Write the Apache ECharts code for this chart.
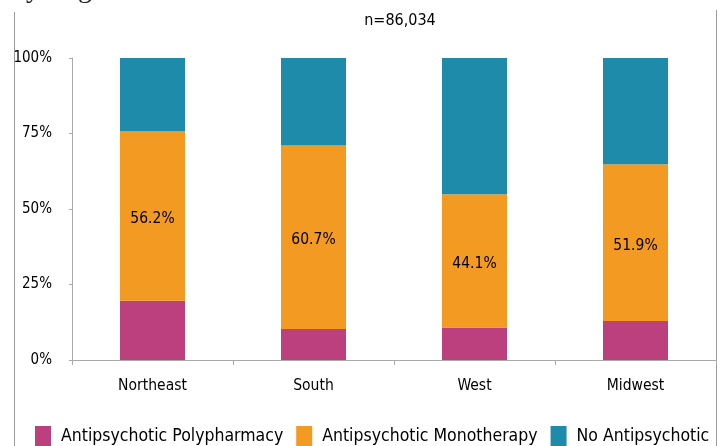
<!DOCTYPE html>
<html>
<head>
<meta charset="utf-8">
<script src="https://cdn.jsdelivr.net/npm/echarts@6/dist/echarts.min.js"></script>
<style>
html,body{margin:0;padding:0;background:#fff;}
#chart{width:722px;height:446px;}
</style>
</head>
<body>
<div id="chart"></div>
<script>
const categories = ['Northeast', 'South', 'West', 'Midwest'];
const polypharmacy = [19.6, 10.3, 10.8, 12.9];
const monotherapy = [56.2, 60.7, 44.1, 51.9];
const noAntipsychotic = [24.2, 29.0, 45.1, 35.2];
const seriesNames = ['Antipsychotic Polypharmacy', 'Antipsychotic Monotherapy', 'No Antipsychotic'];
const yTicks = [0, 25, 50, 75, 100];
const subtitle = 'n=86,034';

const font = '"DejaVu Sans Condensed", "Liberation Sans Narrow", sans-serif';
const chart = echarts.init(document.getElementById('chart'), null, {renderer: 'canvas'});
const colors = ['#BC407D', '#F39A22', '#1F8BAB'];

chart.setOption({
  animation: false,
  color: colors,
  title: {
    text: subtitle,
    left: 395, top: 8, textAlign: 'center',
    textStyle: {fontFamily: font, fontSize: 16, fontWeight: 'normal', color: '#000'}
  },
  legend: {
    bottom: -5, left: 30,
    itemWidth: 16, itemHeight: 20, itemGap: 13,
    icon: 'rect',
    textStyle: {fontFamily: font, fontSize: 17.5, color: '#000', padding: [0,0,0,5]},
    data: seriesNames
  },
  grid: {left: 72, right: 6, top: 58, bottom: 86, containLabel: false},
  xAxis: {
    type: 'category', data: categories,
    axisLine: {lineStyle: {color: '#aaa', width: 1}},
    axisTick: {show: true, length: 5, lineStyle: {color: '#aaa'}},
    axisLabel: {fontFamily: font, fontSize: 15.5, color: '#000', margin: 18}
  },
  yAxis: {
    type: 'value', min: 0, max: 100, interval: 25,
    axisLine: {show: true, lineStyle: {color: '#aaa'}},
    axisTick: {show: true, length: 3, lineStyle: {color: '#aaa'}},
    splitLine: {show: false},
    axisLabel: {fontFamily: font, fontSize: 15, color: '#000', margin: 20,
      formatter: v => yTicks.includes(v) ? v + '%' : ''}
  },
  series: [
    {name: seriesNames[0], type: 'bar', stack: 'a', data: polypharmacy, barWidth: 65},
    {name: seriesNames[1], type: 'bar', stack: 'a', data: monotherapy, barWidth: 65,
      label: {show: true, position: 'inside', offset: [0, 3], formatter: p => p.value.toFixed(1) + '%',
        fontFamily: font, fontSize: 15.5, color: '#000'}},
    {name: seriesNames[2], type: 'bar', stack: 'a', data: noAntipsychotic, barWidth: 65}
  ],
  graphic: [
    {type: 'line', shape: {x1: 14.5, y1: 12, x2: 14.5, y2: 446}, style: {stroke: '#999', lineWidth: 1}},
    {type: 'line', shape: {x1: 716.5, y1: 10, x2: 716.5, y2: 446}, style: {stroke: '#999', lineWidth: 1}},
    {type: 'text', left: 12, top: -24, style: {text: 'by Region', fontFamily: '"Liberation Serif", serif', fontSize: 28, fill: '#222'}}
  ]
});
</script>
</body>
</html>
